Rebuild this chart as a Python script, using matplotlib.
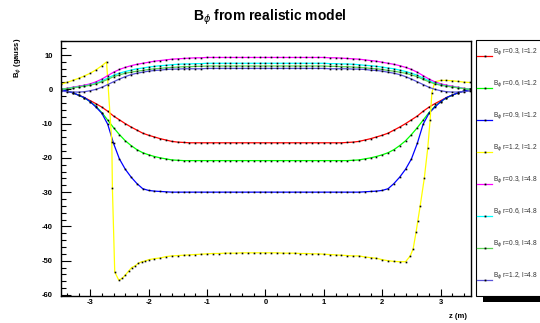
import matplotlib
matplotlib.use("Agg")
import matplotlib.pyplot as plt
from matplotlib.lines import Line2D
from matplotlib.patches import Rectangle
from matplotlib.ticker import MultipleLocator

plt.rcParams['font.family'] = ['Liberation Sans', 'DejaVu Sans']
plt.rcParams['axes.unicode_minus'] = False

# ---------------- data ----------------
Z = [-3.5, -3.4, -3.3, -3.2, -3.1, -3.0, -2.9, -2.8, -2.7, -2.6,
     -2.5, -2.4, -2.3, -2.2, -2.1, -2.0, -1.9, -1.8, -1.7, -1.6,
     -1.5, -1.4, -1.3, -1.2, -1.1, -1.0, -0.9, -0.8, -0.7, -0.6,
     -0.5, -0.4, -0.3, -0.2, -0.1, 0.0, 0.1, 0.2, 0.3, 0.4,
     0.5, 0.6, 0.7, 0.8, 0.9, 1.0, 1.1, 1.2, 1.3, 1.4,
     1.5, 1.6, 1.7, 1.8, 1.9, 2.0, 2.1, 2.2, 2.3, 2.4,
     2.5, 2.6, 2.7, 2.8, 2.9, 3.0, 3.1, 3.2, 3.3, 3.4,
     3.5]

B_r03_l12 = [0.0, -0.5, -1.0, -1.7, -2.4, -3.3, -4.2, -5.2, -6.4, -7.8,
             -8.9, -10.0, -11.0, -11.9, -12.8, -13.4, -13.9, -14.4, -14.8, -15.2,
             -15.4, -15.5, -15.6, -15.6, -15.6, -15.6, -15.6, -15.6, -15.6, -15.6,
             -15.6, -15.6, -15.6, -15.6, -15.6, -15.6, -15.6, -15.6, -15.6, -15.6,
             -15.6, -15.6, -15.6, -15.6, -15.6, -15.6, -15.6, -15.6, -15.6, -15.5,
             -15.4, -15.2, -14.8, -14.4, -13.9, -13.4, -12.8, -11.9, -11.0, -10.0,
             -8.9, -7.8, -6.4, -5.2, -4.2, -3.3, -2.4, -1.7, -1.0, -0.5,
             0.0]

B_r06_l12 = [0.0, -0.5, -1.0, -1.7, -2.5, -3.6, -5.0, -6.8, -9.0, -11.2,
             -13.2, -15.0, -16.4, -17.6, -18.5, -19.1, -19.6, -20.0, -20.3, -20.6,
             -20.7, -20.8, -20.8, -20.8, -20.8, -20.8, -20.8, -20.8, -20.8, -20.8,
             -20.8, -20.8, -20.8, -20.8, -20.8, -20.8, -20.8, -20.8, -20.8, -20.8,
             -20.8, -20.8, -20.8, -20.8, -20.8, -20.8, -20.8, -20.8, -20.8, -20.8,
             -20.7, -20.6, -20.3, -20.0, -19.6, -19.1, -18.5, -17.6, -16.4, -15.0,
             -13.2, -11.2, -9.0, -6.8, -5.0, -3.6, -2.5, -1.7, -1.0, -0.5,
             0.0]

B_r09_l12 = [0.0, -0.5, -1.0, -1.7, -2.4, -3.6, -5.2, -7.0, -10.2, -15.8,
             -20.3, -23.3, -25.6, -27.5, -29.0, -29.5, -29.7, -29.8, -29.9, -30.0,
             -30.0, -30.0, -30.0, -30.0, -30.0, -30.0, -30.0, -30.0, -30.0, -30.0,
             -30.0, -30.0, -30.0, -30.0, -30.0, -30.0, -30.0, -30.0, -30.0, -30.0,
             -30.0, -30.0, -30.0, -30.0, -30.0, -30.0, -30.0, -30.0, -30.0, -30.0,
             -30.0, -30.0, -29.9, -29.8, -29.7, -29.5, -29.0, -27.5, -25.6, -23.3,
             -20.3, -15.8, -10.2, -7.0, -5.2, -3.6, -2.4, -1.7, -1.0, -0.5,
             0.0]

YZ = [-3.5, -3.4, -3.3, -3.2, -3.1, -3.0, -2.9, -2.8, -2.72, -2.63,
      -2.62, -2.58, -2.51, -2.45, -2.4, -2.34, -2.29, -2.23, -2.18, -2.12,
      -2.06, -2.0, -1.9, -1.8, -1.7, -1.6, -1.5, -1.4, -1.3, -1.2,
      -1.1, -1.0, -0.9, -0.8, -0.7, -0.6, -0.5, -0.4, -0.3, -0.2,
      -0.1, 0.0, 0.1, 0.2, 0.3, 0.4, 0.5, 0.6, 0.7, 0.8,
      0.9, 1.0, 1.1, 1.2, 1.3, 1.4, 1.5, 1.6, 1.7, 1.8,
      1.9, 2.0, 2.1, 2.2, 2.3, 2.4, 2.48, 2.53, 2.58, 2.61,
      2.65, 2.72, 2.78, 2.82, 2.85, 2.9, 3.0, 3.1, 3.2, 3.3,
      3.4, 3.5]
B_r12_l12 = [1.5, 2.0, 2.6, 3.2, 3.9, 4.7, 5.7, 6.9, 8.0, -15.4,
             -28.8, -53.3, -55.7, -55.1, -54.2, -53.0, -52.0, -51.5, -50.8, -50.3,
             -50.1, -49.7, -49.4, -49.2, -48.8, -48.6, -48.5, -48.4, -48.3, -48.2,
             -48.1, -48.0, -47.9, -47.9, -47.8, -47.8, -47.8, -47.7, -47.7, -47.7,
             -47.7, -47.7, -47.7, -47.7, -47.8, -47.8, -47.8, -47.9, -47.9, -48.0,
             -48.0, -48.1, -48.2, -48.3, -48.4, -48.5, -48.6, -48.6, -48.9, -49.1,
             -49.3, -49.7, -50.0, -50.2, -50.3, -50.3, -48.6, -46.5, -41.6, -38.3,
             -34.0, -26.0, -17.0, -9.0, -1.0, 2.2, 2.6, 2.6, 2.5, 2.3,
             2.1, 2.0]

B_r03_l4 = [0.0, 0.3, 0.6, 0.9, 1.2, 1.6, 2.2, 3.0, 4.0, 5.0,
            5.8, 6.4, 6.9, 7.3, 7.6, 7.9, 8.2, 8.4, 8.6, 8.8,
            8.9, 9.0, 9.1, 9.2, 9.2, 9.3, 9.3, 9.3, 9.3, 9.3,
            9.3, 9.3, 9.3, 9.3, 9.3, 9.3, 9.3, 9.3, 9.3, 9.3,
            9.3, 9.3, 9.3, 9.3, 9.3, 9.3, 9.2, 9.2, 9.1, 9.0,
            8.9, 8.8, 8.6, 8.4, 8.2, 7.9, 7.6, 7.3, 6.9, 6.4,
            5.8, 5.0, 4.0, 3.0, 2.2, 1.6, 1.2, 0.9, 0.6, 0.3,
            0.0]

B_r06_l4 = [0.0, 0.2, 0.5, 0.7, 1.0, 1.3, 1.8, 2.5, 3.3, 4.1,
            4.7, 5.2, 5.6, 6.0, 6.2, 6.5, 6.7, 6.9, 7.0, 7.2,
            7.3, 7.4, 7.4, 7.5, 7.5, 7.6, 7.6, 7.6, 7.6, 7.6,
            7.6, 7.6, 7.6, 7.6, 7.6, 7.6, 7.6, 7.6, 7.6, 7.6,
            7.6, 7.6, 7.6, 7.6, 7.6, 7.6, 7.5, 7.5, 7.4, 7.4,
            7.3, 7.2, 7.0, 6.9, 6.7, 6.5, 6.2, 6.0, 5.6, 5.2,
            4.7, 4.1, 3.3, 2.5, 1.8, 1.3, 1.0, 0.7, 0.5, 0.2,
            0.0]

B_r09_l4 = [0.0, 0.2, 0.4, 0.7, 0.9, 1.2, 1.6, 2.2, 2.9, 3.7,
            4.2, 4.7, 5.0, 5.3, 5.5, 5.8, 6.0, 6.1, 6.3, 6.4,
            6.5, 6.6, 6.6, 6.7, 6.7, 6.8, 6.8, 6.8, 6.8, 6.8,
            6.8, 6.8, 6.8, 6.8, 6.8, 6.8, 6.8, 6.8, 6.8, 6.8,
            6.8, 6.8, 6.8, 6.8, 6.8, 6.8, 6.7, 6.7, 6.6, 6.6,
            6.5, 6.4, 6.3, 6.1, 6.0, 5.8, 5.5, 5.3, 5.0, 4.7,
            4.2, 3.7, 2.9, 2.2, 1.6, 1.2, 0.9, 0.7, 0.4, 0.2,
            0.0]

B_r12_l4 = [-0.5, -0.7, -0.8, -0.8, -0.7, -0.4, 0.0, 0.6, 1.4, 2.2,
            3.0, 3.7, 4.3, 4.7, 5.0, 5.3, 5.5, 5.6, 5.8, 5.9,
            5.9, 6.0, 6.0, 6.0, 6.0, 6.1, 6.1, 6.1, 6.1, 6.1,
            6.1, 6.1, 6.1, 6.1, 6.1, 6.1, 6.1, 6.1, 6.1, 6.1,
            6.1, 6.1, 6.1, 6.1, 6.1, 6.1, 6.0, 6.0, 6.0, 6.0,
            5.9, 5.9, 5.8, 5.6, 5.5, 5.3, 5.0, 4.7, 4.3, 3.7,
            3.0, 2.2, 1.4, 0.6, 0.0, -0.4, -0.7, -0.8, -0.8, -0.7,
            -0.5]

LABELS = ["B$_\\phi$ r=0.3, l=1.2", "B$_\\phi$ r=0.6, l=1.2",
          "B$_\\phi$ r=0.9, l=1.2", "B$_\\phi$ r=1.2, l=1.2",
          "B$_\\phi$ r=0.3, l=4.8", "B$_\\phi$ r=0.6, l=4.8",
          "B$_\\phi$ r=0.9, l=4.8", "B$_\\phi$ r=1.2, l=4.8"]
COLORS = ['#ff0000', '#00ff00', '#0000ff', '#ffff00',
          '#ff00ff', '#00ffff', '#59d454', '#5954d8']

SERIES = [(Z, B_r03_l12), (Z, B_r06_l12), (Z, B_r09_l12), (YZ, B_r12_l12),
          (Z, B_r03_l4), (Z, B_r06_l4), (Z, B_r09_l4), (Z, B_r12_l4)]

# ---------------- figure ----------------
W, H = 540, 323
fig = plt.figure(figsize=(W / 100, H / 100), dpi=100)

def fx(px):
    return px / W

def fy(py):
    return 1 - py / H

ax = fig.add_axes([fx(61), fy(296), fx(471) - fx(61), fy(41) - fy(296)])

for (xs, ys), c in zip(SERIES, COLORS):
    ax.plot(xs, ys, color=c, lw=0.9, marker='s', ms=1.2, mfc='black',
            mec='black', mew=0)

ax.set_xlim(-3.5, 3.52)
ax.set_ylim(-60.3, 14.1)

ax.xaxis.set_major_locator(MultipleLocator(1))
ax.xaxis.set_minor_locator(MultipleLocator(0.2))
ax.yaxis.set_major_locator(MultipleLocator(10))
ax.yaxis.set_minor_locator(MultipleLocator(2))

ax.tick_params(axis='x', which='major', direction='in', length=5, width=0.8,
               top=False, labelsize=5.5, pad=2.5)
ax.tick_params(axis='x', which='minor', direction='in', length=2.5, width=0.8,
               top=False)
ax.tick_params(axis='y', which='major', direction='in', length=7, width=0.8,
               right=False, labelsize=5.5, pad=6)
ax.tick_params(axis='y', which='minor', direction='in', length=3.5, width=0.8,
               right=False)
for lab in ax.get_xticklabels() + ax.get_yticklabels():
    lab.set_fontweight('bold')
for s in ax.spines.values():
    s.set_linewidth(1.0)

# title and axis labels
fig.text(fx(270), fy(17), "B$_\\phi$ from realistic model", ha='center',
         va='center', fontsize=10, fontweight='bold')
fig.text(fx(18), fy(38), "B$_\\phi$ (gauss)", rotation=90, ha='center',
         va='top', fontsize=5.5, fontweight='bold')
fig.text(fx(458), fy(316), "z (m)", ha='center', va='center', fontsize=5.5,
         fontweight='bold')

# legend box with shadow
shadow = Rectangle((fx(483), fy(302)), fx(620) - fx(483), fy(46) - fy(302),
                   transform=fig.transFigure, facecolor='black',
                   edgecolor='none', zorder=1)
box = Rectangle((fx(476), fy(296)), fx(620) - fx(476), fy(40) - fy(296),
                transform=fig.transFigure, facecolor='white',
                edgecolor='black', lw=0.8, zorder=2)
fig.add_artist(shadow)
fig.add_artist(box)

for i, (lab, c) in enumerate(zip(LABELS, COLORS)):
    py = 56 + i * 32.0
    fig.add_artist(Line2D([fx(477), fx(492)], [fy(py), fy(py)], color=c,
                          lw=0.9, transform=fig.transFigure, zorder=3))
    fig.add_artist(Line2D([fx(485)], [fy(py)], marker='s', ms=1.3,
                          mfc='black', mec='black', mew=0, lw=0,
                          transform=fig.transFigure, zorder=4))
    fig.text(fx(493), fy(py - 4), lab, ha='left', va='center', fontsize=4.8,
             color='#333333', zorder=5)

fig.savefig("out.png", dpi=100)
